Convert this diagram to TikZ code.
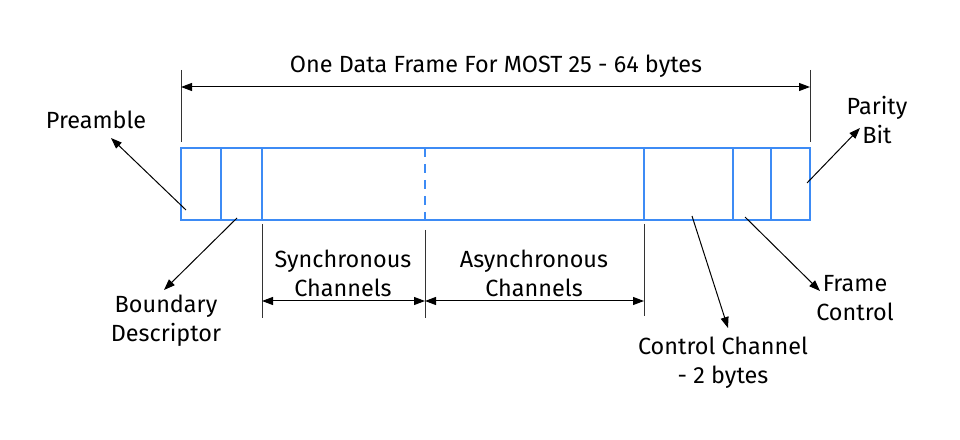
\documentclass[tikz,border=0pt]{standalone}
\usepackage{fontspec}
\setmainfont{Fira Sans}
\usetikzlibrary{arrows.meta}
\usetikzlibrary{positioning}
\definecolor{fieldblue}{HTML}{3D8BF5}
\definecolor{tickgray}{HTML}{333333}
\tikzset{
    field/.style={draw=fieldblue, line width=1.3bp},
    fieldsplit/.style={draw=fieldblue, line width=1.3bp, dash pattern=on 9bp off 7bp},
    tick/.style={draw=tickgray, line width=1bp},
    dimline/.style={draw=black, line width=1bp, <->},
    pointer/.style={draw=black, line width=1bp, ->},
    lbl/.style={align=center, inner sep=0pt, font=\fontsize{23.5}{29}\selectfont},
}
\begin{document}
\begin{tikzpicture}[x=1bp, y=-1bp, >={Triangle[length=11bp,width=8bp]}]
	\useasboundingbox (0,0) rectangle (960,440);
	% the frame and its fields
	\draw[field] (181,148) rectangle (810,220);
	\foreach \x in {221,262,644,733,771}
		\draw[field] (\x,148) -- (\x,220);
	\draw[fieldsplit] (425,148) -- (425,220);
	% whole frame
	\coordinate (topL) at (181,87);
	\coordinate (topR) at (810,87);
	\draw[tick] (181,70) -- (181,142);
	\draw[tick] (810,70) -- (810,142);
	\draw[dimline] (topL) -- (topR);
	\node[lbl] (title) at (496,66) {One Data Frame For MOST 25 - 64 bytes};
	% channel spans
	\coordinate (syncL) at (262,301);
	\coordinate (syncR) at (425,301);
	\coordinate (asyncR) at (644,301);
	\draw[tick] (262,224) -- (262,318);
	\draw[tick] (425,230) -- (425,318);
	\draw[tick] (644,224) -- (644,316);
	\draw[dimline] (syncL) -- (syncR);
	\draw[dimline] (syncR) -- (asyncR);
	\node[lbl] (sync) at (343,273) {Synchronous\\Channels};
	\node[lbl] (async) at (534,273) {Asynchronous\\Channels};
	% labels
	\node[lbl] (pre) at (96,120) {Preamble};
	\node[lbl] (bound) at (166,321) {Boundary\\Descriptor};
	\node[lbl] (ctrl) at (723,363) {Control Channel\\- 2 bytes};
	\node[lbl] (fctrl) at (855,298) {Frame\\Control};
	\node[lbl] (parity) at (877,120) {Parity\\Bit};
	% pointers
	\coordinate (preIn) at (186,210);
	\coordinate (preTip) at (111,138);
	\coordinate (boundIn) at (237,218);
	\coordinate (boundTip) at (164,290);
	\coordinate (ctrlIn) at (692,216);
	\coordinate (ctrlTip) at (728,328);
	\coordinate (fctrlIn) at (745,217);
	\coordinate (fctrlTip) at (820,291);
	\coordinate (parityIn) at (807,183);
	\coordinate (parityTip) at (860,128);
	\draw[pointer] (preIn) -- (preTip);
	\draw[pointer] (boundIn) -- (boundTip);
	\draw[pointer] (ctrlIn) -- (ctrlTip);
	\draw[pointer] (fctrlIn) -- (fctrlTip);
	\draw[pointer] (parityIn) -- (parityTip);
\end{tikzpicture}
\end{document}
